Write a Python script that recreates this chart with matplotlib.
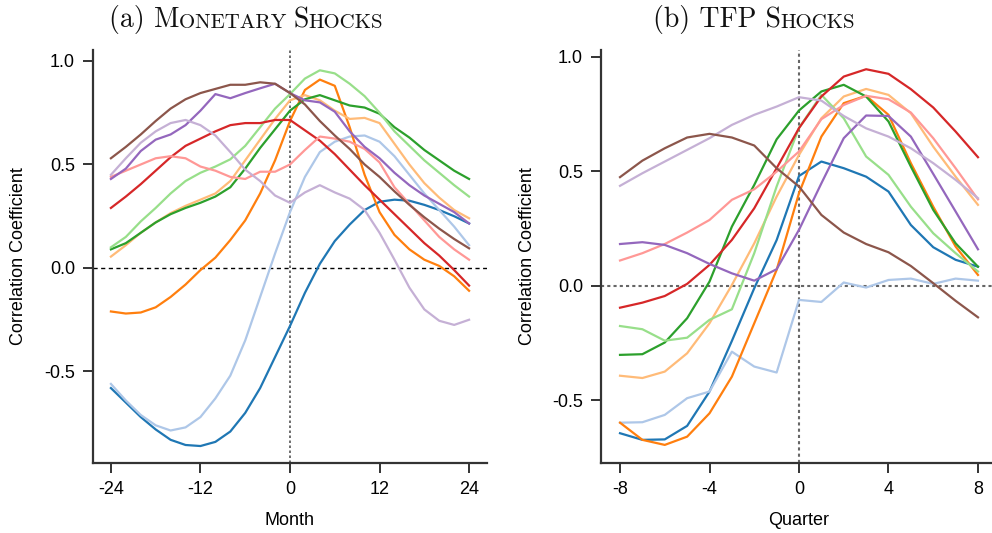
import matplotlib
matplotlib.use("Agg")
import matplotlib.pyplot as plt
from matplotlib.offsetbox import TextArea, HPacker, AnchoredOffsetbox

plt.rcParams["font.family"] = ["Liberation Sans", "DejaVu Sans"]
plt.rcParams["axes.unicode_minus"] = False

# ---- Panel (a): monthly correlations, every second month ----
months = list(range(-24, 25, 2))

m_blue = [-0.58, -0.65, -0.72, -0.78, -0.83, -0.855, -0.86, -0.84, -0.79, -0.70, -0.58, -0.43, -0.28,
          -0.12, 0.02, 0.13, 0.21, 0.28, 0.32, 0.33, 0.325, 0.305, 0.28, 0.25, 0.215]
m_lblue = [-0.56, -0.64, -0.71, -0.76, -0.785, -0.77, -0.72, -0.63, -0.52, -0.35, -0.14, 0.07, 0.27,
           0.44, 0.56, 0.61, 0.635, 0.64, 0.61, 0.54, 0.45, 0.36, 0.28, 0.20, 0.11]
m_orange = [-0.21, -0.22, -0.215, -0.19, -0.14, -0.08, -0.01, 0.05, 0.135, 0.23, 0.36, 0.52, 0.71,
            0.86, 0.91, 0.88, 0.68, 0.45, 0.27, 0.16, 0.09, 0.04, 0.01, -0.04, -0.11]
m_lorange = [0.055, 0.11, 0.17, 0.22, 0.265, 0.30, 0.33, 0.36, 0.42, 0.52, 0.62, 0.72, 0.81,
             0.835, 0.81, 0.76, 0.72, 0.725, 0.70, 0.60, 0.50, 0.41, 0.34, 0.28, 0.24]
m_green = [0.09, 0.12, 0.17, 0.22, 0.26, 0.29, 0.315, 0.345, 0.39, 0.48, 0.58, 0.67, 0.76,
           0.815, 0.835, 0.81, 0.785, 0.775, 0.745, 0.68, 0.63, 0.57, 0.52, 0.47, 0.43]
m_lgreen = [0.10, 0.15, 0.225, 0.29, 0.36, 0.42, 0.46, 0.49, 0.525, 0.59, 0.68, 0.77, 0.84,
            0.915, 0.955, 0.94, 0.89, 0.83, 0.75, 0.66, 0.59, 0.52, 0.46, 0.40, 0.345]
m_red = [0.29, 0.345, 0.405, 0.47, 0.535, 0.59, 0.625, 0.66, 0.69, 0.70, 0.70, 0.715, 0.715,
         0.665, 0.615, 0.55, 0.475, 0.40, 0.33, 0.26, 0.19, 0.12, 0.06, -0.01, -0.085]
m_lred = [0.44, 0.47, 0.50, 0.53, 0.54, 0.53, 0.49, 0.47, 0.44, 0.43, 0.465, 0.465, 0.50,
          0.57, 0.635, 0.625, 0.61, 0.575, 0.51, 0.39, 0.31, 0.23, 0.15, 0.09, 0.04]
m_purple = [0.43, 0.48, 0.565, 0.62, 0.645, 0.69, 0.76, 0.84, 0.82, 0.845, 0.868, 0.89, 0.845,
            0.81, 0.80, 0.755, 0.66, 0.585, 0.53, 0.46, 0.40, 0.35, 0.31, 0.27, 0.215]
m_lpurple = [0.45, 0.53, 0.605, 0.66, 0.70, 0.715, 0.69, 0.64, 0.56, 0.475, 0.42, 0.35, 0.315,
             0.365, 0.40, 0.365, 0.335, 0.28, 0.17, 0.04, -0.095, -0.20, -0.255, -0.275, -0.25]
m_brown = [0.53, 0.585, 0.645, 0.71, 0.77, 0.815, 0.845, 0.865, 0.885, 0.885, 0.897, 0.89, 0.845,
           0.79, 0.71, 0.64, 0.575, 0.50, 0.44, 0.37, 0.305, 0.245, 0.19, 0.14, 0.095]

# ---- Panel (b): quarterly correlations ----
quarters = list(range(-8, 9))

q_blue = [-0.643, -0.672, -0.67, -0.611, -0.461, -0.24, -0.01, 0.20, 0.48,
          0.543, 0.514, 0.477, 0.412, 0.266, 0.169, 0.114, 0.084]
q_lblue = [-0.597, -0.595, -0.563, -0.49, -0.461, -0.287, -0.352, -0.378, -0.061,
           -0.07, 0.015, -0.007, 0.026, 0.032, 0.009, 0.032, 0.023]
q_orange = [-0.597, -0.672, -0.694, -0.658, -0.556, -0.396, -0.163, 0.07, 0.405,
            0.652, 0.798, 0.83, 0.747, 0.536, 0.346, 0.172, 0.048]
q_lorange = [-0.392, -0.402, -0.374, -0.294, -0.163, 0.004, 0.186, 0.39, 0.572,
             0.732, 0.827, 0.86, 0.834, 0.754, 0.608, 0.477, 0.354]
q_green = [-0.301, -0.298, -0.247, -0.141, 0.019, 0.259, 0.441, 0.64, 0.766,
           0.849, 0.878, 0.827, 0.718, 0.521, 0.332, 0.186, 0.084]
q_lgreen = [-0.175, -0.189, -0.239, -0.226, -0.148, -0.102, 0.143, 0.434, 0.69,
            0.834, 0.732, 0.565, 0.485, 0.346, 0.23, 0.143, 0.063]
q_red = [-0.095, -0.073, -0.044, 0.009, 0.092, 0.201, 0.339, 0.514, 0.689,
         0.827, 0.914, 0.946, 0.926, 0.859, 0.779, 0.674, 0.562]
q_lred = [0.111, 0.143, 0.183, 0.233, 0.288, 0.376, 0.422, 0.499, 0.587,
          0.728, 0.79, 0.83, 0.815, 0.757, 0.645, 0.514, 0.378]
q_purple = [0.183, 0.191, 0.179, 0.143, 0.096, 0.055, 0.023, 0.073, 0.245,
            0.448, 0.645, 0.744, 0.742, 0.652, 0.489, 0.325, 0.16]
q_lpurple = [0.437, 0.492, 0.543, 0.594, 0.645, 0.703, 0.747, 0.783, 0.824,
             0.809, 0.742, 0.688, 0.652, 0.601, 0.536, 0.463, 0.383]
q_brown = [0.475, 0.547, 0.601, 0.648, 0.664, 0.648, 0.613, 0.514, 0.434,
           0.31, 0.233, 0.183, 0.147, 0.087, 0.012, -0.065, -0.137]

colors = ["#1f77b4", "#aec7e8", "#ff7f0e", "#ffbb78", "#2ca02c", "#98df8a",
          "#d62728", "#ff9896", "#9467bd", "#c5b0d5", "#8c564b"]
monthly = [m_blue, m_lblue, m_orange, m_lorange, m_green, m_lgreen,
           m_red, m_lred, m_purple, m_lpurple, m_brown]
quarterly = [q_blue, q_lblue, q_orange, q_lorange, q_green, q_lgreen,
             q_red, q_lred, q_purple, q_lpurple, q_brown]

W, H = 992, 533
fig = plt.figure(figsize=(W / 100, H / 100), dpi=100)
ax1 = fig.add_axes([93 / W, 70 / H, 394 / W, 413 / H])
ax2 = fig.add_axes([601 / W, 70 / H, 396 / W, 413 / H])


def style(ax):
    for s in ["top", "right"]:
        ax.spines[s].set_visible(False)
    for s in ["left", "bottom"]:
        ax.spines[s].set_linewidth(1.6)
        ax.spines[s].set_color("#333333")
    ax.tick_params(direction="out", length=7, width=1.4, color="#333333",
                   labelsize=13, pad=6)
    ax.set_ylabel("Correlation Coefficient", fontsize=13)


# ---- Panel (a) ----
ax1.axhline(0, color="black", lw=1.0, ls=(0, (3, 2.5)), zorder=1)
ax1.axvline(0, color="#555555", lw=1.2, ls=(0, (1.5, 1.5)), zorder=1)
for ys, c in zip(monthly, colors):
    ax1.plot(months, ys, color=c, lw=1.6, zorder=2)
ax1.set_xlim(-26.4, 26.4)
ax1.set_ylim(-0.942, 1.053)
ax1.set_xticks([-24, -12, 0, 12, 24])
ax1.set_yticks([-0.5, 0.0, 0.5, 1.0])
ax1.set_yticklabels(["-0.5", "0.0", "0.5", "1.0"])
ax1.set_xlabel("Month", fontsize=13)
style(ax1)
ax1.yaxis.set_label_coords(-0.168, 0.5)
ax1.xaxis.set_label_coords(0.5, -0.118)

# ---- Panel (b) ----
ax2.axhline(0, color="#666666", lw=1.5, ls=(0, (1.5, 1.5)), zorder=1)
ax2.axvline(0, color="#666666", lw=1.5, ls=(0, (1.5, 1.5)), zorder=1)
for ys, c in zip(quarterly, colors):
    ax2.plot(quarters, ys, color=c, lw=1.6, zorder=2)
ax2.set_xlim(-8.85, 8.85)
ax2.set_ylim(-0.773, 1.03)
ax2.set_xticks([-8, -4, 0, 4, 8])
ax2.set_yticks([-0.5, 0.0, 0.5, 1.0])
ax2.set_yticklabels(["-0.5", "0.0", "0.5", "1.0"])
ax2.set_xlabel("Quarter", fontsize=13)
style(ax2)
ax2.yaxis.set_label_coords(-0.164, 0.5)
ax2.xaxis.set_label_coords(0.5, -0.118)


# small-caps titles built from pieces
def sc_title(parts, xc):
    boxes = [TextArea(t, textprops=dict(family="cmr10", size=sz, color="#111111"))
             for t, sz in parts]
    pack = HPacker(children=boxes, align="baseline", pad=0, sep=0)
    ab = AnchoredOffsetbox(loc="center", child=pack, frameon=False,
                           bbox_to_anchor=(xc / W, 1 - 20 / H),
                           bbox_transform=fig.transFigure, borderpad=0, pad=0)
    fig.add_artist(ab)


sc_title([("(a) M", 20), ("ONETARY ", 15), ("S", 20), ("HOCKS", 15)], 246)
sc_title([("(b) TFP S", 20), ("HOCKS", 15)], 754)

fig.savefig("out.png", dpi=100)
